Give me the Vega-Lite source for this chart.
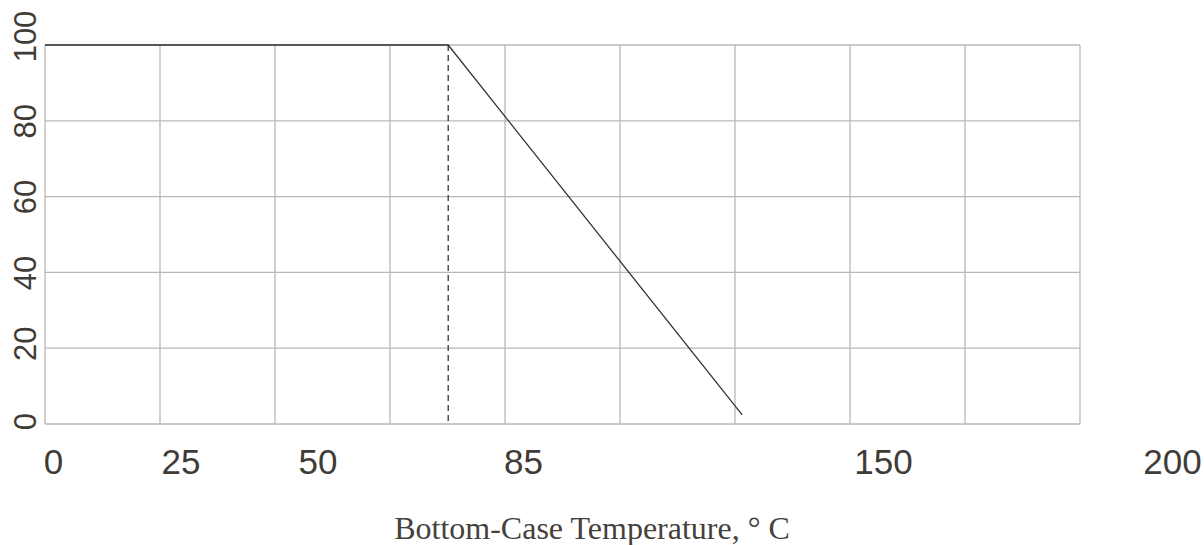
{
  "$schema": "https://vega.github.io/schema/vega-lite/v6.json",
  "width": 1035,
  "height": 379,
  "autosize": "none",
  "padding": {"left": 45, "top": 45, "right": 124, "bottom": 121},
  "background": "white",
  "config": {"view": {"stroke": null}},
  "datasets": {
    "grid": [{"g": 0}, {"g": 1}, {"g": 2}, {"g": 3}, {"g": 4}, {"g": 5}, {"g": 6}, {"g": 7}, {"g": 8}, {"g": 9}],
    "hgrid": [{"v": 0}, {"v": 20}, {"v": 40}, {"v": 60}, {"v": 80}, {"v": 100}],
    "curve": [{"t": 0, "v": 100}, {"t": 72, "v": 100}, {"t": 124.5, "v": 2.4}],
    "knee": [{"t": 72}]
  },
  "layer": [
    {
      "data": {"name": "grid"},
      "mark": {"type": "rule", "color": "#b8b8b8", "strokeWidth": 1.3},
      "encoding": {
        "x": {"field": "g", "type": "quantitative", "scale": {"domain": [0, 9]}, "axis": null}
      }
    },
    {
      "data": {"name": "hgrid"},
      "mark": {"type": "rule", "color": "#b8b8b8", "strokeWidth": 1.3},
      "encoding": {
        "y": {
          "field": "v",
          "type": "quantitative",
          "scale": {"domain": [0, 100]},
          "axis": {
            "values": [0, 20, 40, 60, 80, 100],
            "orient": "left",
            "grid": false,
            "ticks": false,
            "tickSize": 0,
            "domain": false,
            "labelFont": "Liberation Sans",
            "labelFontSize": 31,
            "labelColor": "#3f3b37",
            "labelAngle": 270,
            "labelAlign": "center",
            "labelBaseline": "alphabetic",
            "labelPadding": 10,
            "labelFlush": false,
            "labelOverlap": false,
            "labelBound": false,
            "labelOffset": {
              "condition": [
                {"test": "datum.value == 100", "value": -9},
                {"test": "datum.value == 20", "value": -5},
                {"test": "datum.value == 0", "value": -3}
              ],
              "value": 0
            },
            "title": null
          }
        }
      }
    },
    {
      "layer": [
        {
          "data": {"name": "curve"},
          "mark": {"type": "line", "color": "#333333", "strokeWidth": 1.3},
          "encoding": {
            "x": {
              "field": "t",
              "type": "quantitative",
              "scale": {"domain": [0, 200], "range": [0, 1120]},
              "axis": {
                "values": [0, 25, 50, 85, 150, 200],
                "grid": false,
                "ticks": false,
                "tickSize": 0,
                "domain": false,
                "labelFont": "Liberation Sans",
                "labelFontSize": 35,
                "labelColor": "#3f3b37",
                "labelBaseline": "alphabetic",
                "labelAlign": "center",
                "labelPadding": 49,
                "labelFlush": false,
                "labelOverlap": false,
                "labelBound": false,
                "labelOffset": {
                  "condition": [
                    {"test": "datum.value == 0", "value": 8},
                    {"test": "datum.value == 25", "value": -4.5},
                    {"test": "datum.value == 50", "value": -7.5},
                    {"test": "datum.value == 85", "value": 2},
                    {"test": "datum.value == 150", "value": -2},
                    {"test": "datum.value == 200", "value": 7}
                  ],
                  "value": 0
                },
                "title": "Bottom-Case Temperature, ° C",
                "titleFont": "Liberation Serif",
                "titleFontSize": 32,
                "titleFontWeight": "normal",
                "titleColor": "#45413c",
                "titleX": 546.5,
                "titleY": 114,
                "titleAlign": "center",
                "titleBaseline": "alphabetic"
              }
            },
            "y": {
              "field": "v",
              "type": "quantitative",
              "scale": {"domain": [0, 100]},
              "axis": null
            }
          }
        },
        {
          "data": {"name": "knee"},
          "mark": {"type": "rule", "color": "#333333", "strokeWidth": 1.3, "strokeDash": [6, 4]},
          "encoding": {
            "x": {"field": "t", "type": "quantitative"}
          }
        }
      ]
    }
  ],
  "resolve": {"scale": {"x": "independent"}, "axis": {"y": "independent"}}
}
